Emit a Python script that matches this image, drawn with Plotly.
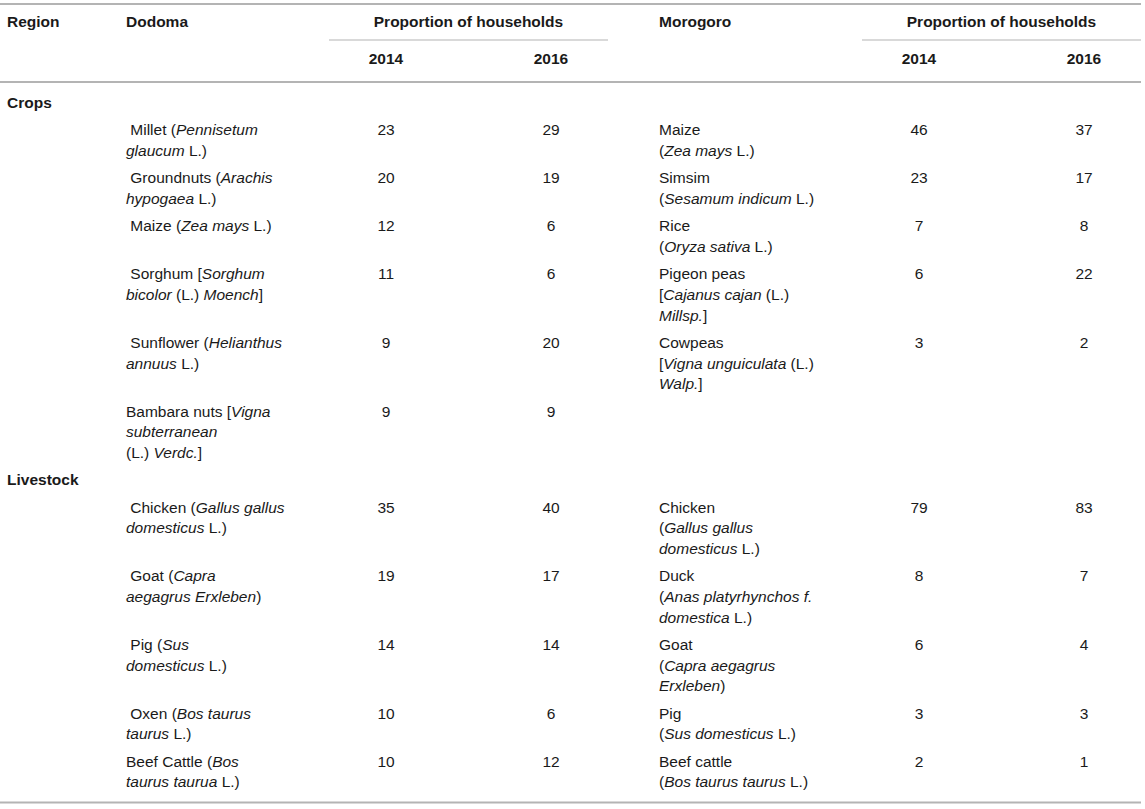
import plotly.graph_objects as go

# header texts
header_region = "Region"
regions = ["Dodoma", "Morogoro"]
header_prop = "Proportion of households"
years = ["2014", "2016"]
groups = ["Crops", "Livestock"]

# Crops
dodoma_crops = [
    ["\u00a0Millet (<i>Pennisetum</i>", "<i>glaucum</i> L.)"],
    ["\u00a0Groundnuts (<i>Arachis</i>", "<i>hypogaea</i> L.)"],
    ["\u00a0Maize (<i>Zea mays</i> L.)"],
    ["\u00a0Sorghum [<i>Sorghum</i>", "<i>bicolor</i> (L.) <i>Moench</i>]"],
    ["\u00a0Sunflower (<i>Helianthus</i>", "<i>annuus</i> L.)"],
    ["Bambara nuts [<i>Vigna</i>", "<i>subterranean</i>", "(L.) <i>Verdc.</i>]"],
]
dodoma_crops_2014 = [23, 20, 12, 11, 9, 9]
dodoma_crops_2016 = [29, 19, 6, 6, 20, 9]

morogoro_crops = [
    ["Maize", "(<i>Zea mays</i> L.)"],
    ["Simsim", "(<i>Sesamum indicum</i> L.)"],
    ["Rice", "(<i>Oryza sativa</i> L.)"],
    ["Pigeon peas", "[<i>Cajanus cajan</i> (L.)", "<i>Millsp.</i>]"],
    ["Cowpeas", "[<i>Vigna unguiculata</i> (L.)", "<i>Walp.</i>]"],
]
morogoro_crops_2014 = [46, 23, 7, 6, 3]
morogoro_crops_2016 = [37, 17, 8, 22, 2]

# Livestock
dodoma_livestock = [
    ["\u00a0Chicken (<i>Gallus gallus</i>", "<i>domesticus</i> L.)"],
    ["\u00a0Goat (<i>Capra</i>", "<i>aegagrus Erxleben</i>)"],
    ["\u00a0Pig (<i>Sus</i>", "<i>domesticus</i> L.)"],
    ["\u00a0Oxen (<i>Bos taurus</i>", "<i>taurus</i> L.)"],
    ["Beef Cattle (<i>Bos</i>", "<i>taurus taurua</i> L.)"],
]
dodoma_livestock_2014 = [35, 19, 14, 10, 10]
dodoma_livestock_2016 = [40, 17, 14, 6, 12]

morogoro_livestock = [
    ["Chicken", "(<i>Gallus gallus</i>", "<i>domesticus</i> L.)"],
    ["Duck", "(<i>Anas platyrhynchos f.</i>", "<i>domestica</i> L.)"],
    ["Goat", "(<i>Capra aegagrus</i>", "<i>Erxleben</i>)"],
    ["Pig", "(<i>Sus domesticus</i> L.)"],
    ["Beef cattle", "(<i>Bos taurus taurus</i> L.)"],
]
morogoro_livestock_2014 = [79, 8, 6, 3, 2]
morogoro_livestock_2016 = [83, 7, 4, 3, 1]

sections = [
    (groups[0], dodoma_crops, dodoma_crops_2014, dodoma_crops_2016,
     morogoro_crops, morogoro_crops_2014, morogoro_crops_2016),
    (groups[1], dodoma_livestock, dodoma_livestock_2014, dodoma_livestock_2016,
     morogoro_livestock, morogoro_livestock_2014, morogoro_livestock_2016),
]

# column layout, in page pixels
W, H = 1145, 809
X_REGION = 7
X_NAME = [126, 659]
X_NUM = [[386, 551], [919, 1084]]
X_PROP = [468.5, 1001.5]
LINE = 20.7
PAD = 6.6

left_x, left_y, left_t = [], [], []
mid_x, mid_y, mid_t = [], [], []

# header
left_x += [X_REGION, X_NAME[0], X_NAME[1]]
left_y += [23, 23, 23]
left_t += [f"<b>{header_region}</b>"] + [f"<b>{r}</b>" for r in regions]
for k in range(2):
    mid_x.append(X_PROP[k]); mid_y.append(23); mid_t.append(f"<b>{header_prop}</b>")
    for j, yr in enumerate(years):
        mid_x.append(X_NUM[k][j]); mid_y.append(60); mid_t.append(f"<b>{yr}</b>")

y = 104
last = y
for group, dn, d14, d16, mn, m14, m16 in sections:
    left_x.append(X_REGION); left_y.append(y); left_t.append(f"<b>{group}</b>")
    y += LINE + PAD
    for i in range(max(len(dn), len(mn))):
        n = 1
        for k, (names, v14, v16) in enumerate([(dn, d14, d16), (mn, m14, m16)]):
            if i >= len(names):
                continue
            for li, line in enumerate(names[i]):
                left_x.append(X_NAME[k]); left_y.append(y + li * LINE); left_t.append(line)
            mid_x += [X_NUM[k][0], X_NUM[k][1]]
            mid_y += [y, y]
            mid_t += [str(v14[i]), str(v16[i])]
            n = max(n, len(names[i]))
        last = y + (n - 1) * LINE
        y += n * LINE + PAD
bottom_y = last + 19

font = dict(family="Liberation Sans, Arial, sans-serif", size=15.5, color="#1a1a1a")

fig = go.Figure()
fig.add_trace(go.Scatter(
    x=left_x, y=left_y, text=left_t, mode="text",
    textposition="middle right", textfont=font,
    hoverinfo="skip", showlegend=False,
))
fig.add_trace(go.Scatter(
    x=mid_x, y=mid_y, text=mid_t, mode="text",
    textposition="middle center", textfont=font,
    hoverinfo="skip", showlegend=False,
))

rule = dict(color="#b4b4b4", width=2)
thin = dict(color="#b4b4b4", width=1.2)
shapes = [
    dict(type="line", xref="x", yref="y", x0=0, x1=1141, y0=4, y1=4, line=rule),
    dict(type="line", xref="x", yref="y", x0=0, x1=1141, y0=82, y1=82, line=rule),
    dict(type="line", xref="x", yref="y", x0=0, x1=1141, y0=bottom_y, y1=bottom_y, line=rule),
    dict(type="line", xref="x", yref="y", x0=329, x1=608, y0=40, y1=40, line=thin),
    dict(type="line", xref="x", yref="y", x0=862, x1=1141, y0=40, y1=40, line=thin),
]

fig.update_layout(
    width=W, height=H,
    margin=dict(l=0, r=0, t=0, b=0),
    paper_bgcolor="white", plot_bgcolor="white",
    xaxis=dict(range=[0, W], visible=False, fixedrange=True),
    yaxis=dict(range=[H, 0], visible=False, fixedrange=True),
    shapes=shapes,
)

# drop the browser's default body margin so the table sits at the page corner
fig.write_html("out.html", config={"displayModeBar": False},
               post_script="document.body.style.margin='0';document.body.style.overflow='hidden';")
